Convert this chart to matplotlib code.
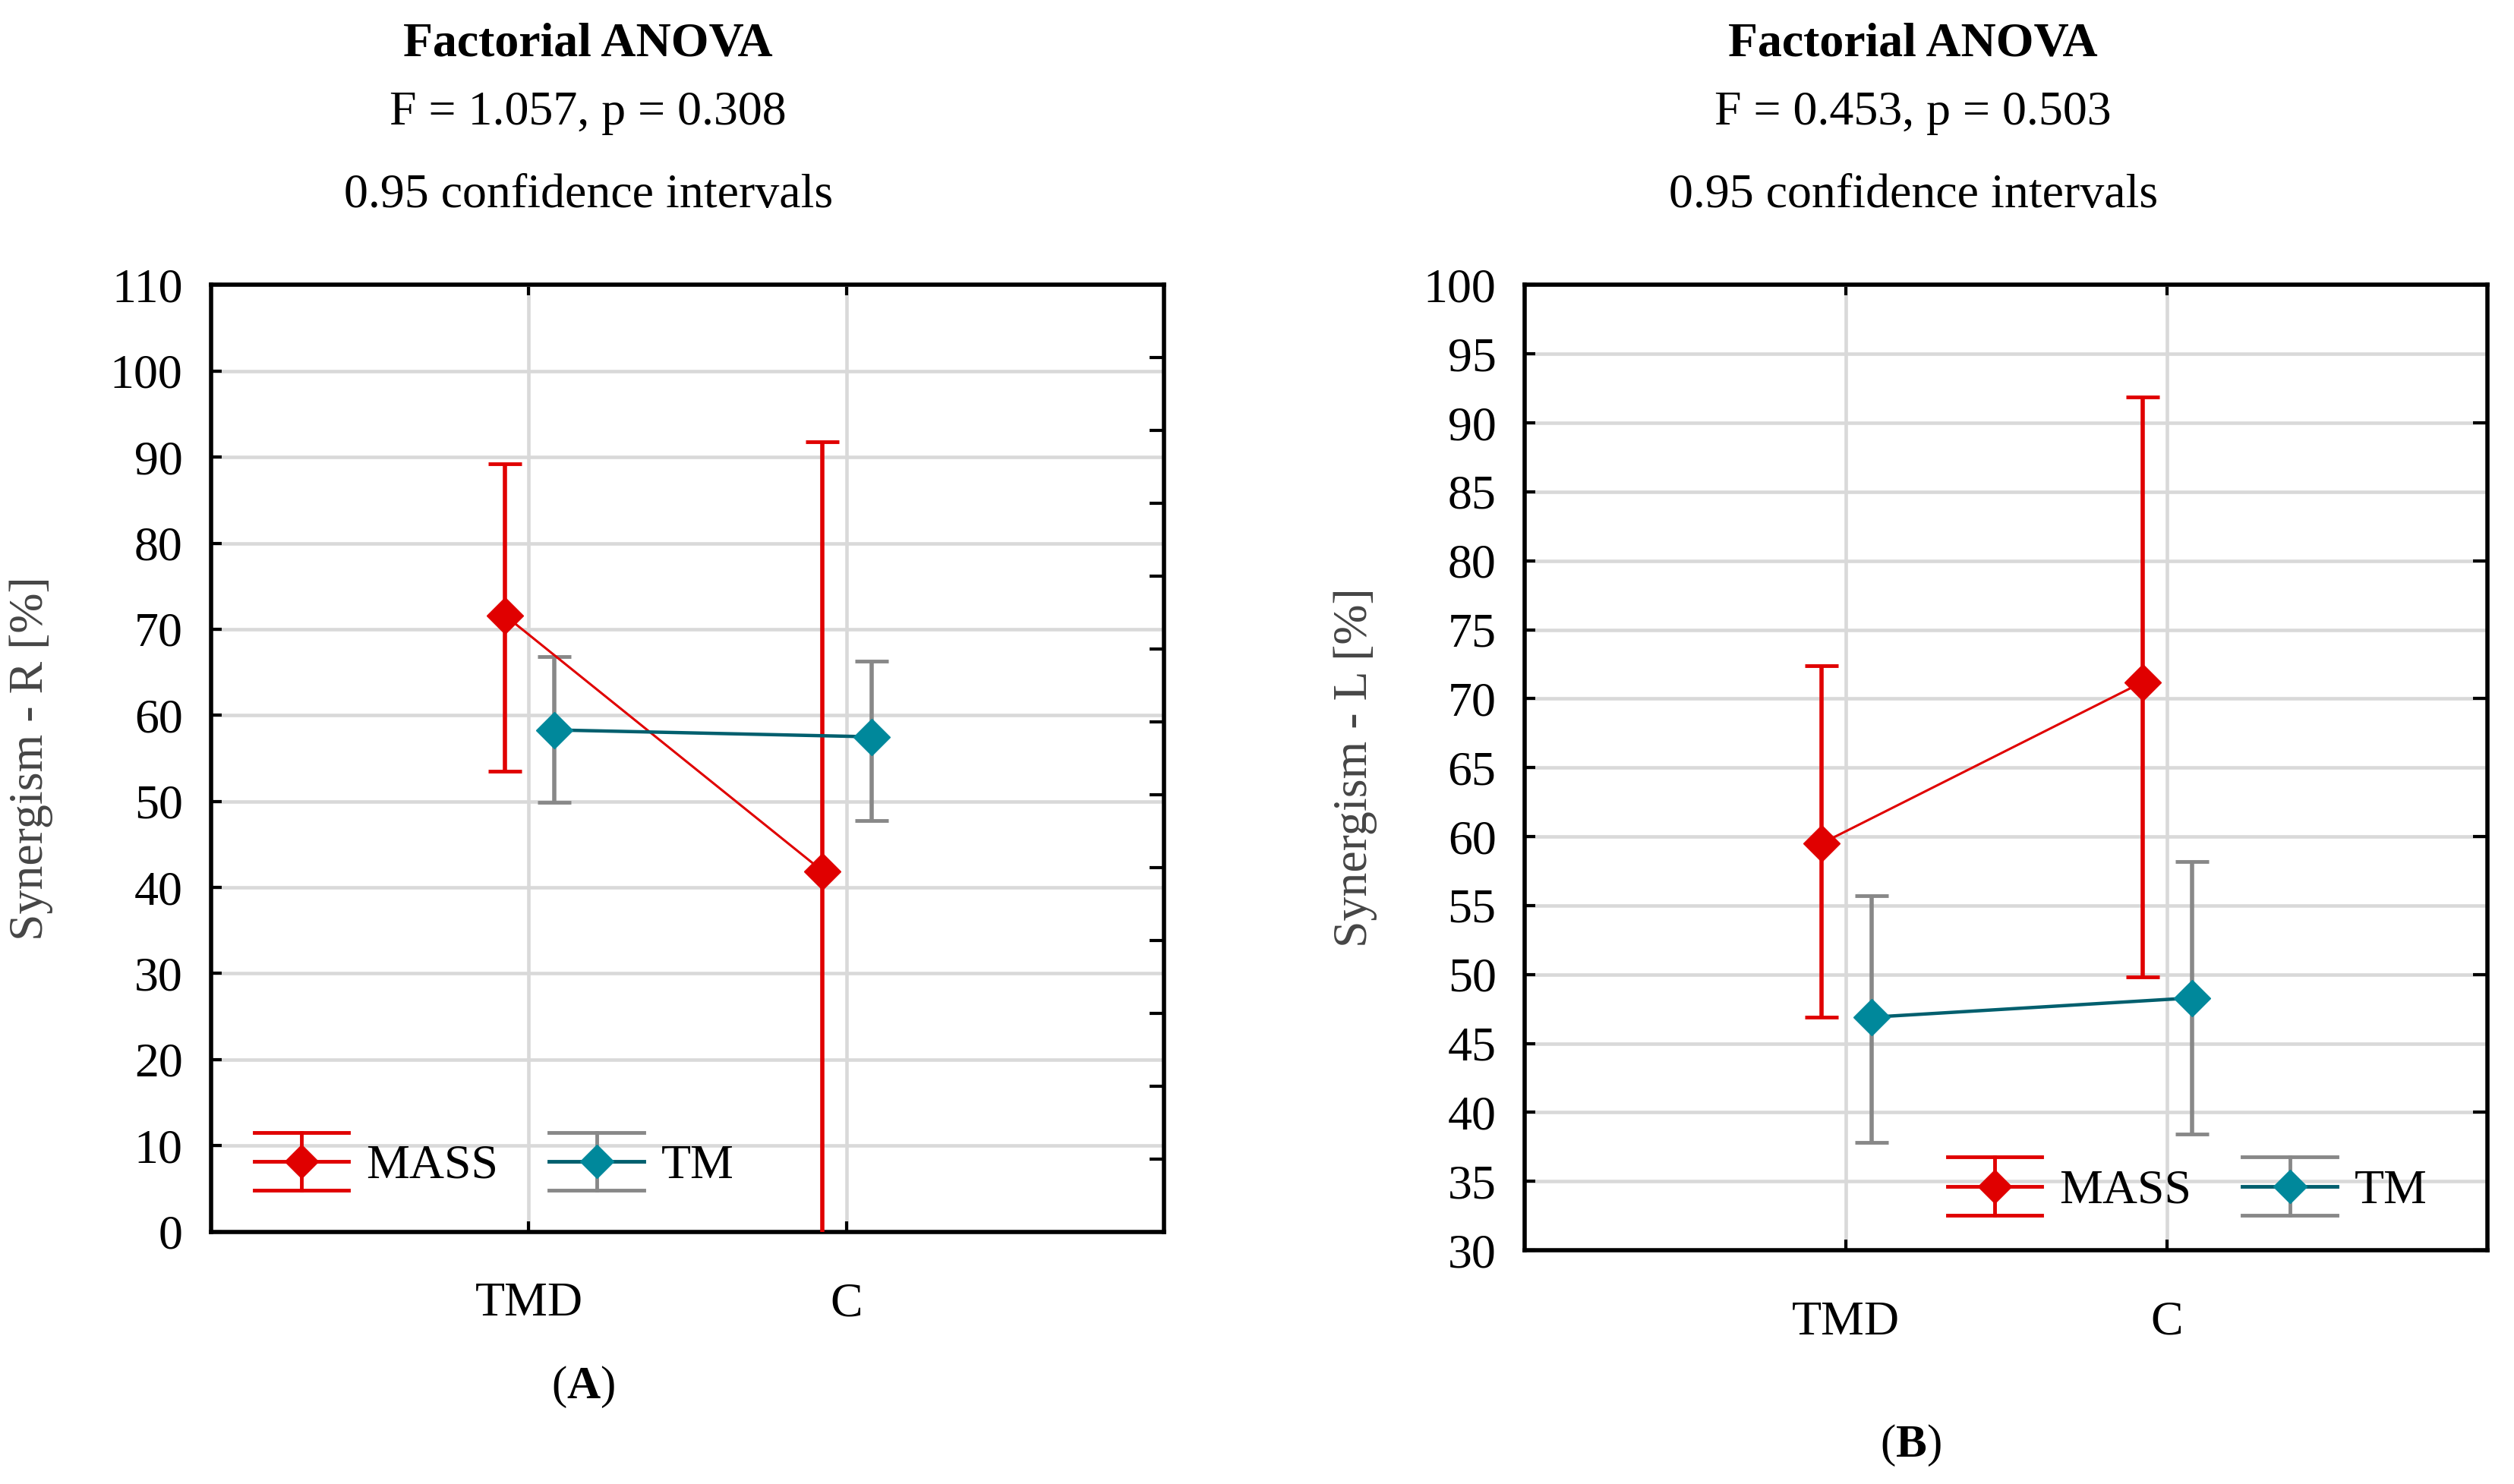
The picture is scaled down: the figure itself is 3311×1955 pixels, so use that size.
import numpy as np
import matplotlib.pyplot as plt
from matplotlib.lines import Line2D
from matplotlib.legend_handler import HandlerBase
from matplotlib.ticker import FixedLocator

plt.rcParams['font.family'] = ['Liberation Serif', 'DejaVu Serif']
plt.rcParams['mathtext.fontset'] = 'custom'
plt.rcParams['mathtext.rm'] = 'Liberation Serif'
plt.rcParams['mathtext.bf'] = 'Liberation Serif:bold'

groups = ['TMD', 'C']
series = ['MASS', 'TM']

# panel A: Synergism - R [%]
r_mass_mean = [71.6, 41.9]
r_mass_low = [53.5, -8.0]
r_mass_high = [89.2, 91.8]
r_tm_mean = [58.3, 57.5]
r_tm_low = [49.9, 47.8]
r_tm_high = [66.8, 66.3]

# panel B: Synergism - L [%]
l_mass_mean = [59.5, 71.2]
l_mass_low = [46.9, 49.8]
l_mass_high = [72.4, 91.9]
l_tm_mean = [46.9, 48.3]
l_tm_low = [37.8, 38.4]
l_tm_high = [55.7, 58.2]

stats_a = 'F = 1.057, p = 0.308'
stats_b = 'F = 0.453, p = 0.503'

RED = '#e00000'
TEAL_LINE = '#005f6e'
TEAL_MARK = '#00889b'
GREY = '#888888'
FS = 46


class CIKey:
    def __init__(self, line_color, bar_color, marker_color):
        self.line_color = line_color
        self.bar_color = bar_color
        self.marker_color = marker_color


class HandlerCI(HandlerBase):
    def create_artists(self, legend, orig_handle, xdescent, ydescent,
                       width, height, fontsize, trans):
        x0 = -xdescent
        x1 = x0 + width
        xc = (x0 + x1) / 2
        yc = -ydescent + height / 2
        h = height * 0.85
        arts = [
            Line2D([x0, x1], [yc + h, yc + h], color=orig_handle.bar_color, lw=3.5),
            Line2D([x0, x1], [yc - h, yc - h], color=orig_handle.bar_color, lw=3.5),
            Line2D([xc, xc], [yc - h, yc + h], color=orig_handle.bar_color, lw=3.5),
            Line2D([x0, x1], [yc, yc], color=orig_handle.line_color, lw=3.5),
            Line2D([xc], [yc], marker='D', ms=22, color=orig_handle.marker_color, lw=0),
        ]
        for a in arts:
            a.set_transform(trans)
        return arts


def draw_panel(ax, mass, tm, ylim, yticks, right_ticks, ylabel, label_x, leg_xy):
    x = np.arange(1, len(groups) + 1)
    specs = [
        (mass, -0.075, RED, RED, RED, 2.2),
        (tm, 0.08, TEAL_LINE, GREY, TEAL_MARK, 3.2),
    ]
    for (mean, low, high), off, lc, bc, mc, lw in specs:
        m = np.array(mean)
        yerr = [m - np.array(low), np.array(high) - m]
        ax.errorbar(x + off, m, yerr=yerr, color=lc, lw=lw, ecolor=bc,
                    elinewidth=4, capsize=16, capthick=3.5,
                    marker='D', ms=24, mfc=mc, mec=mc, zorder=3)

    ax.set_xlim(0, 3)
    ax.set_ylim(*ylim)
    ax.set_xticks(x)
    ax.set_xticklabels(groups)
    ax.set_yticks(yticks)
    ax.grid(True, color='#d9d9d9', lw=3.3)
    ax.set_axisbelow(True)
    for s in ax.spines.values():
        s.set_linewidth(4)
    ax.tick_params(axis='both', direction='in', labelsize=FS, width=3, length=10,
                   top=True, right=False)
    ax.tick_params(axis='x', pad=48)
    ax.tick_params(axis='y', pad=27)
    ax.yaxis.set_minor_locator(FixedLocator(right_ticks))
    ax.yaxis.remove_overlapping_locs = False
    ax.tick_params(axis='y', which='minor', left=False, right=True,
                   direction='in', length=14, width=3)
    ax.set_ylabel(ylabel, fontsize=FS, color='#454545')
    ax.yaxis.set_label_coords(label_x, 0.5)

    handles = [CIKey(RED, RED, RED), CIKey(TEAL_LINE, GREY, TEAL_MARK)]
    ax.legend(handles, series, handler_map={CIKey: HandlerCI()}, ncol=2,
              loc='center left', bbox_to_anchor=leg_xy, frameon=False,
              fontsize=FS, borderpad=0, borderaxespad=0, handlelength=1.95,
              handletextpad=0.36, columnspacing=1.05)


fig = plt.figure(figsize=(33.11, 19.55), dpi=100)
ax_a = fig.add_axes([0.084, 0.170, 0.379, 0.638])
ax_b = fig.add_axes([0.6065, 0.1575, 0.383, 0.6505])

draw_panel(ax_a, (r_mass_mean, r_mass_low, r_mass_high),
           (r_tm_mean, r_tm_low, r_tm_high),
           (0, 110), np.arange(0, 111, 10), np.linspace(0, 110, 14),
           'Synergism - R [%]', -0.166, (0.045, 0.069))
draw_panel(ax_b, (l_mass_mean, l_mass_low, l_mass_high),
           (l_tm_mean, l_tm_low, l_tm_high),
           (30, 100), np.arange(30, 101, 5), np.arange(30, 101, 10),
           'Synergism - L [%]', -0.153, (0.439, 0.061))

for xc, stats in [(0.234, stats_a), (0.761, stats_b)]:
    fig.text(xc, 0.970, 'Factorial ANOVA', ha='center', va='center',
             fontsize=FS, fontweight='bold')
    fig.text(xc, 0.924, stats, ha='center', va='center', fontsize=FS)
    fig.text(xc, 0.868, '0.95 confidence intervals', ha='center', va='center',
             fontsize=FS)

fig.text(0.232, 0.0655, r'($\mathbf{A}$)', ha='center', va='center', fontsize=44)
fig.text(0.760, 0.026, r'($\mathbf{B}$)', ha='center', va='center', fontsize=44)

fig.savefig('out.png', dpi=100, facecolor='white')
